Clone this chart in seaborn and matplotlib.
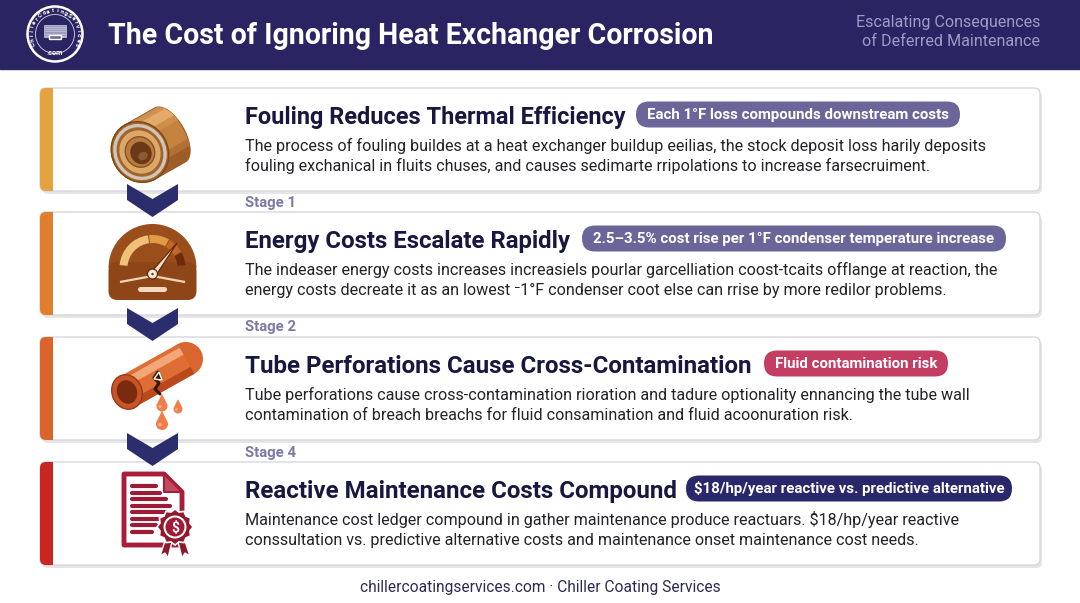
import numpy as np
import pandas as pd
import matplotlib
matplotlib.use("Agg")
import matplotlib.pyplot as plt
import seaborn as sns
from matplotlib.patches import FancyBboxPatch, Rectangle, Circle, Ellipse, Wedge, Polygon

# ---------------- data ----------------
stage_ids = ["Fouling", "Energy", "Perforation", "Reactive"]
titles = [
    "Fouling Reduces Thermal Efficiency",
    "Energy Costs Escalate Rapidly",
    "Tube Perforations Cause Cross-Contamination",
    "Reactive Maintenance Costs Compound",
]
badges = [
    "Each 1°F loss compounds downstream costs",
    "2.5–3.5% cost rise per 1°F condenser temperature increase",
    "Fluid contamination risk",
    "$18/hp/year reactive vs. predictive alternative",
]
desc_first = [
    "The process of fouling buildes at a heat exchanger buildup eeilias, the stock deposit loss harily deposits",
    "The indeaser energy costs increases increasiels pourlar garcelliation coost-tcaits offlange at reaction, the",
    "Tube perforations cause cross-contamination rioration and tadure optionality ennancing the tube wall",
    "Maintenance cost ledger compound in gather maintenance produce reactuars. $18/hp/year reactive",
]
desc_second = [
    "fouling exchanical in fluits chuses, and causes sedimarte rripolations to increase farsecruiment.",
    "energy costs decreate it as an lowest \u207b1°F condenser coot else can rrise by more redilor problems.",
    "contamination of breach breachs for fluid consamination and fluid acoonuration risk.",
    "conssultation vs. predictive alternative costs and maintenance onset maintenance cost needs.",
]
stage_labels = ["Stage 1", "Stage 2", "Stage 4"]
header_title = "The Cost of Ignoring Heat Exchanger Corrosion"
header_sub = ["Escalating Consequences", "of Deferred Maintenance"]
footer_text = "chillercoatingservices.com \u00b7 Chiller Coating Services"

# ---------------- styles / layout ----------------
accent_colors = ["#e3a33f", "#e07e2e", "#dc6329", "#c9261f"]
badge_colors = ["#6b6699", "#6b6699", "#c43d63", "#29286a"]
NAVY = "#2a2462"
TITLE_C = "#17173f"
DESC_C = "#222228"
STAGE_C = "#7b79a6"
CHEV_C = "#2b2d6c"

W, H = 1080, 603
card_top = [88, 212, 337, 462]
card_h = 103
card_x0, card_x1 = 40, 1040
text_x = 245
title_w = [380, 327, 508, 433]
badge_box = [(636, 960), (582, 1006), (764, 948), (686, 1012)]
badge_txt_w = [304, 403, 163, 306]
desc_w = [(741, 685), (745, 687), (733, 610), (713, 680)]

sns.set_theme(style="white")
plt.rcParams["font.family"] = ["Roboto", "DejaVu Sans"]

fig = plt.figure(figsize=(W / 100, H / 100), dpi=100)
fig.patch.set_facecolor("white")
ax = fig.add_axes([0, 0, 1, 1])
ax.set_xlim(0, W)
ax.set_ylim(H, 0)
ax.axis("off")
R = fig.canvas.get_renderer()


def measure(s, size, **kw):
    t = ax.text(0, 0, s, fontsize=size, **kw)
    w = t.get_window_extent(renderer=R).width
    t.remove()
    return w


def fit_size(s, target, **kw):
    return 10.0 * target / measure(s, 10.0, **kw)


# ---------------- header ----------------
ax.add_patch(Rectangle((0, 0), W, 69, color=NAVY, zorder=1))
ts = fit_size(header_title, 606, fontweight="bold")
ax.text(108, 44, header_title, fontsize=ts, fontweight="bold", color="white",
        ha="left", va="baseline", zorder=5)
ss = np.median([fit_size(header_sub[0], 185), fit_size(header_sub[1], 178)])
ax.text(1040, 26.5, header_sub[0], fontsize=ss, color="#9e9bc6", ha="right", va="baseline", zorder=5)
ax.text(1040, 45.5, header_sub[1], fontsize=ss, color="#9e9bc6", ha="right", va="baseline", zorder=5)

# logo
lc = (55, 34)
ax.add_patch(Circle(lc, 27.5, fc=NAVY, ec="white", lw=1.8, zorder=5))
ax.add_patch(Circle(lc, 19.5, fc="none", ec="#d8d8ea", lw=0.6, zorder=5))
ax.add_patch(Rectangle((44, 25), 22, 12, fc="#9c9cc0", ec="#d0d0e4", lw=0.5, zorder=6))
for yy in np.arange(27.0, 36, 2.2):
    ax.plot([44.5, 65.5], [yy, yy], color="#c8c8de", lw=0.5, zorder=7)
ax.add_patch(Rectangle((49, 35), 12, 4, fc="#6a6a98", zorder=7))
logo_txt = "ChillerCoatingServices"
angs = np.linspace(205, -25, len(logo_txt))
for ch, a in zip(logo_txt, angs):
    r = np.deg2rad(a)
    ax.text(lc[0] + 23.3 * np.cos(r), lc[1] - 23.3 * np.sin(r), ch, fontsize=4.6,
            color="white", fontweight="bold", rotation=a - 90, ha="center", va="center", zorder=7)
ax.text(55, 53, ".com", fontsize=5.2, color="white", fontweight="bold", ha="center", va="center", zorder=7)

# ---------------- cards ----------------
card_patches = []
for i in range(4):
    y0 = card_top[i]
    ax.add_patch(FancyBboxPatch((card_x0 + 2, y0 + 3), card_x1 - card_x0, card_h,
                                boxstyle="round,pad=0,rounding_size=6",
                                fc="#000000", ec="none", alpha=0.10, zorder=1.5))
    cp = FancyBboxPatch((card_x0, y0), card_x1 - card_x0, card_h,
                        boxstyle="round,pad=0,rounding_size=6",
                        fc="white", ec="#d6d6e0", lw=1.0, zorder=2)
    ax.add_patch(cp)
    card_patches.append(cp)

# accent stripes drawn with seaborn bars (native scale)
centers = [t + card_h / 2 for t in card_top]
stripe_df = pd.DataFrame({"stage": stage_ids, "center": centers, "stripe": [13] * 4})
sns.barplot(data=stripe_df, x="stripe", y="center", hue="stage", orient="y",
            native_scale=True, palette=dict(zip(stage_ids, accent_colors)),
            width=card_h / 125, saturation=1, errorbar=None, legend=False,
            left=card_x0, zorder=3, linewidth=0, ax=ax)
for cont in ax.containers:
    for bar in cont:
        cy = bar.get_y() + bar.get_height() / 2
        k = int(np.argmin([abs(cy - c) for c in centers]))
        bar.set_clip_path(card_patches[k])
ax.set_xlim(0, W)
ax.set_ylim(H, 0)
ax.axis("off")

# text in cards
dsz = np.median([fit_size(a, wa) for a, (wa, wb) in zip(desc_first, desc_w)] +
                [fit_size(b, wb) for b, (wa, wb) in zip(desc_second, desc_w)])
bsz = np.median([fit_size(b, w, fontweight="bold") for b, w in zip(badges, badge_txt_w)])
for i in range(4):
    y0 = card_top[i]
    tsz = fit_size(titles[i], title_w[i], fontweight="bold")
    ax.text(text_x, y0 + 36, titles[i], fontsize=tsz, fontweight="bold", color=TITLE_C,
            ha="left", va="baseline", zorder=5)
    bx0, bx1 = badge_box[i]
    bc = y0 + 26.5
    ax.add_patch(FancyBboxPatch((bx0, bc - 13), bx1 - bx0, 26,
                                boxstyle="round,pad=0,rounding_size=13",
                                fc=badge_colors[i], ec="none", zorder=4))
    ax.text((bx0 + bx1) / 2, bc + 0.5, badges[i], fontsize=bsz, fontweight="bold", color="white",
            ha="center", va="center", zorder=5)
    ax.text(text_x, y0 + 63, desc_first[i], fontsize=dsz, color=DESC_C, ha="left",
            va="baseline", zorder=5)
    ax.text(text_x, y0 + 83, desc_second[i], fontsize=dsz, color=DESC_C, ha="left",
            va="baseline", zorder=5)

# stage labels and chevrons
ssz = fit_size(stage_labels[0], 51, fontweight="bold")
for k in range(3):
    ax.text(text_x, card_top[k] + card_h + 16.5, stage_labels[k], fontsize=ssz, fontweight="bold",
            color=STAGE_C, ha="left", va="baseline", zorder=5)
    t0 = card_top[k] + card_h - 7
    chev = [(127, t0), (152.5, t0 + 15), (178, t0), (178, t0 + 16), (152.5, t0 + 33), (127, t0 + 16)]
    ax.add_patch(Polygon(chev, closed=True, fc=CHEV_C, ec="none", zorder=6))


# ---------------- icons ----------------
def tube_body(p0, p1, r, fc, z, ec="none"):
    d = np.array(p1, float) - np.array(p0, float)
    n = np.array([-d[1], d[0]]) / np.hypot(*d)
    pts = [np.array(p0) + n * r, np.array(p1) + n * r, np.array(p1) - n * r, np.array(p0) - n * r]
    p = Polygon(pts, closed=True, fc=fc, ec=ec, zorder=z)
    ax.add_patch(p)
    return n, p


# icon 1: copper cylinder (front face lower-left, body to upper-right)
f0 = np.array([140.0, 152.0])
b0 = np.array([170.0, 135.0])
u = (b0 - f0) / np.hypot(*(b0 - f0))
nv = np.array([-u[1], u[0]])
rad = 31.0
tt = np.linspace(-np.pi / 2, np.pi / 2, 40)
back_half = [b0 + 15 * np.cos(t) * u + rad * np.sin(t) * nv for t in tt]
tt2 = np.linspace(np.pi / 2, 3 * np.pi / 2, 40)
front_half = [f0 + 28 * np.cos(t) * u + rad * np.sin(t) * nv for t in tt2]
sil = Polygon(back_half + front_half, closed=True, fc="#c4843f", ec="#9a5a22", lw=0.8, zorder=7)
ax.add_patch(sil)
ext = u * 20
for off, hw, col in [(-21, 6, "#e3aa68"), (-28, 2.5, "#d09050"), (-12, 3, "#cf8f4b"),
                     (17, 5, "#b37034"), (25, 6, "#9e5d26")]:
    _, p = tube_body(tuple(f0 + nv * off - ext), tuple(b0 + nv * off + ext), hw, col, 7.05)
    p.set_clip_path(sil)
ang1 = np.degrees(np.arctan2(u[1], u[0]))
ax.add_patch(Ellipse(f0, 56, 62, angle=ang1, fc="#a8662c", ec="#7d4718", lw=1, zorder=7.2))
ax.add_patch(Ellipse(f0, 49, 54, angle=ang1, fc="none", ec="#cfc5b9", lw=2.4, zorder=7.3))
ax.add_patch(Ellipse(f0, 42, 46, angle=ang1, fc="#dca767", ec="#9a6630", lw=1.2, zorder=7.3))
ax.add_patch(Ellipse(f0, 29, 31, angle=ang1, fc="#b87c42", ec="#8a5220", lw=1, zorder=7.4))
ax.add_patch(Ellipse(f0 + 1, 21, 23, angle=ang1, fc="#6b3915", ec="none", zorder=7.5))
ax.add_patch(Ellipse(f0 + np.array([3, 4]), 10, 8, angle=ang1, fc="#8a5a30", ec="none", zorder=7.6))

# icon 2: gauge
gc = (152.5, 268)
ax.add_patch(Wedge(gc, 44, 180, 360, fc="#9a4e1c", ec="none", zorder=7))
ax.add_patch(FancyBboxPatch((108.5, 262), 88, 38, boxstyle="round,pad=0,rounding_size=9",
                            fc="#8e4517", ec="none", zorder=7))
ax.add_patch(Wedge(gc, 33, 185, 262, width=8, fc="#f0c07a", ec="none", zorder=7.2))
ax.add_patch(Wedge(gc, 33, 264, 300, width=8, fc="#e39a48", ec="none", zorder=7.2))
ax.add_patch(Wedge(gc, 33, 302, 330, width=8, fc="#c4652a", ec="none", zorder=7.2))
ax.add_patch(Wedge(gc, 33, 332, 355, width=8, fc="#6e2a0c", ec="none", zorder=7.2))
ax.add_patch(Polygon([(120, 282), (152.5, 276), (185, 282)], closed=False, fill=False,
                     ec="#f2d5b6", lw=1.6, zorder=7.2))
ax.add_patch(Polygon([(149.5, 274), (177, 243), (155.5, 276)], closed=True, fc="#f6dfc4",
                     ec="#5a2408", lw=0.8, zorder=7.4))
ax.add_patch(Circle((152.5, 274), 5, fc="#f6dfc4", ec="#5a2408", lw=0.8, zorder=7.5))
ax.add_patch(Circle((152.5, 274), 2, fc="#7a3510", zorder=7.6))
ax.add_patch(FancyBboxPatch((138, 287), 29, 5, boxstyle="round,pad=0,rounding_size=2.5",
                            fc="#f3d9bd", ec="none", zorder=7.3))

# icon 3: perforated tube
t0p, t1p = (127, 392), (186, 359)
ax.add_patch(Circle(t1p, 17, fc="#d9652f", ec="none", zorder=7))
n3, _ = tube_body(t0p, t1p, 17, "#df6d36", 7)
tube_body(tuple(np.array(t0p) - n3 * 9), tuple(np.array(t1p) - n3 * 9), 4, "#f3a677", 7.1)
tube_body(tuple(np.array(t0p) + n3 * 13), tuple(np.array(t1p) + n3 * 13), 4, "#b9491d", 7.1)
ax.add_patch(Ellipse(t0p, 30, 35, angle=-20, fc="#c85428", ec="#9a3a15", lw=1, zorder=7.2))
ax.add_patch(Ellipse(t0p, 20, 24, angle=-20, fc="#7a2a0e", ec="none", zorder=7.3))
ax.plot([158, 154, 159, 155, 160], [372, 378, 383, 389, 394], color="#3a1505", lw=2.2,
        solid_capstyle="round", zorder=7.4)
ax.add_patch(Polygon([(154, 379), (159, 372), (162, 380)], closed=True, fc="#3a1505", zorder=7.4))


def drop(cx, cy, r):
    th = np.linspace(-0.3, np.pi + 0.3, 30)
    pts = list(zip(cx + r * np.cos(th), cy + r * np.sin(th))) + [(cx, cy - 2.2 * r)]
    ax.add_patch(Polygon(pts, closed=True, fc="#f07e4c", ec="none", zorder=7.5))
    ax.add_patch(Circle((cx - r * 0.35, cy + r * 0.1), r * 0.28, fc="#f8b590", ec="none", zorder=7.6))


drop(162, 406, 5.5)
drop(178, 409, 4.5)
drop(162, 424, 6)

# icon 4: document with rosette
doc = [(124, 474), (164, 474), (182, 492), (182, 545), (124, 545)]
ax.add_patch(Polygon(doc, closed=True, fc="white", ec="#a81d3a", lw=3.5, joinstyle="round", zorder=7))
ax.add_patch(Polygon([(164, 474), (164, 492), (182, 492)], closed=True, fc="#c04a60",
                     ec="#a81d3a", lw=1.5, joinstyle="round", zorder=7.1))
for yy, x1 in zip([486, 492.5, 499, 505.5, 512, 518.5, 525, 531.5],
                  [156, 160, 166, 170, 165, 160, 156, 152]):
    ax.plot([132, x1], [yy, yy], color="#9e1b36", lw=3, solid_capstyle="round", zorder=7.2)
rc = (175, 527)
ax.add_patch(Polygon([(167, 535), (160, 556), (165, 553), (168, 558), (173, 538)], closed=True,
                     fc="#8a1a2c", zorder=7.3))
ax.add_patch(Polygon([(177, 538), (182, 558), (185, 553), (190, 556), (183, 535)], closed=True,
                     fc="#8a1a2c", zorder=7.3))
th = np.linspace(0, 2 * np.pi, 25)
rr = np.where(np.arange(25) % 2 == 0, 18, 15.5)
ax.add_patch(Polygon(list(zip(rc[0] + rr * np.cos(th), rc[1] + rr * np.sin(th))), closed=True,
                     fc="#921a2e", ec="white", lw=1.2, zorder=7.4))
ax.add_patch(Circle(rc, 11.5, fc="white", ec="none", zorder=7.5))
ax.add_patch(Circle(rc, 9.5, fc="#a01c36", ec="none", zorder=7.6))
ax.text(rc[0], rc[1] + 0.5, "$", fontsize=10, fontweight="bold", color="white", ha="center",
        va="center", zorder=7.7)

# ---------------- footer ----------------
fsz = fit_size(footer_text, 360)
ax.text(540, 592, footer_text, fontsize=fsz, color="#2b2b55", ha="center", va="baseline", zorder=5)

fig.savefig("out.png", dpi=100, facecolor="white")
